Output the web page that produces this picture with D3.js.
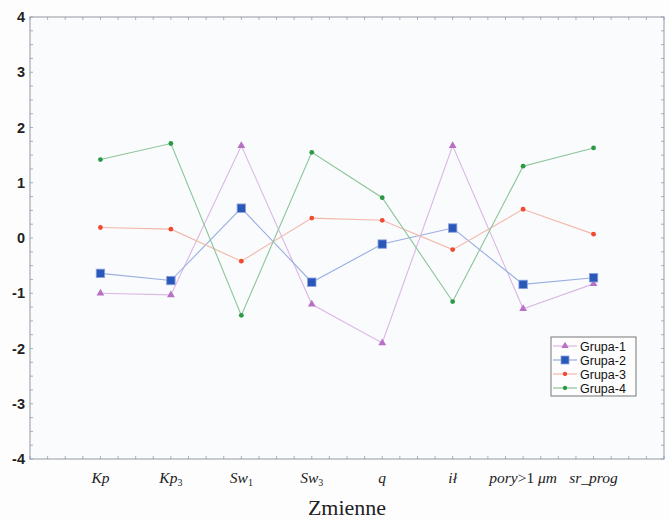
<!DOCTYPE html>
<html><head><meta charset="utf-8">
<script src="https://cdn.jsdelivr.net/npm/d3@7"></script>
<style>body{margin:0;background:#fff}svg{display:block}</style>
</head><body>
<script>
const categories = ["Kp","Kp3","Sw1","Sw3","q","ił","pory>1 μm","sr_prog"];
const grupa1 = [-1.00,-1.03,1.67,-1.20,-1.90,1.67,-1.28,-0.83];
const grupa2 = [-0.64,-0.77,0.54,-0.80,-0.11,0.18,-0.84,-0.72];
const grupa3 = [0.19,0.16,-0.42,0.36,0.32,-0.21,0.52,0.07];
const grupa4 = [1.42,1.71,-1.40,1.55,0.73,-1.15,1.30,1.63];
const seriesNames = ["Grupa-1","Grupa-2","Grupa-3","Grupa-4"];
const yTicks = [-4,-3,-2,-1,0,1,2,3,4];

const W=669,H=520;
const m={l:30,r:5,t:17,b:61};
const svg=d3.select("body").append("svg").attr("width",W).attr("height",H);
svg.append("rect").attr("width",W).attr("height",H).attr("fill","#fdfdfe");
const x=d3.scaleLinear().domain([0,categories.length+1]).range([m.l,W-m.r]);
const y=d3.scaleLinear().domain([-4,4]).range([H-m.b,m.t]);
svg.append("rect").attr("x",x(0)).attr("y",y(4)).attr("width",x(9)-x(0)).attr("height",y(-4)-y(4))
  .attr("fill","#f9fbfd").attr("stroke","#a8aab0").attr("stroke-width",1.2);

// ticks
const tk=d3.range(0,9.001,0.25);
const yk=d3.range(-4,4.001,0.25);
const tg=svg.append("g").attr("stroke","#8aa0b8").attr("stroke-width",0.8);
tk.forEach(v=>{
  tg.append("line").attr("x1",x(v)).attr("x2",x(v)).attr("y1",y(-4)).attr("y2",y(-4)-3);
  tg.append("line").attr("x1",x(v)).attr("x2",x(v)).attr("y1",y(4)).attr("y2",y(4)+3);
});
yk.forEach(v=>{
  tg.append("line").attr("x1",x(0)).attr("x2",x(0)+3).attr("y1",y(v)).attr("y2",y(v));
  tg.append("line").attr("x1",x(9)).attr("x2",x(9)-3).attr("y1",y(v)).attr("y2",y(v));
});

// y axis labels
const ya=svg.append("g").attr("transform",`translate(${x(0)},0)`)
  .call(d3.axisLeft(y).tickValues(yTicks).tickSize(0).tickPadding(5).tickFormat(d=>String(d)));
ya.select(".domain").remove();
ya.selectAll("text").attr("font-family","Liberation Sans, Arial").attr("font-weight","bold")
  .attr("font-size",14.5).attr("fill","#222");

// x labels
const xl=svg.append("g").attr("font-family","Liberation Serif, Times New Roman").attr("font-size",15.5).attr("fill","#222");
const parts={
 "Kp":[["Kp","i"]],
 "Kp3":[["Kp","i"],["3","s"]],
 "Sw1":[["Sw","i"],["1","s"]],
 "Sw3":[["Sw","i"],["3","s"]],
 "q":[["q","i"]],
 "ił":[["ił","i"]],
 "pory>1 μm":[["pory","i"],[">1 ","n"],["μm","i"]],
 "sr_prog":[["sr_prog","i"]]
};
categories.forEach((c,i)=>{
  const t=xl.append("text").attr("x",x(i+1)).attr("y",483).attr("text-anchor","middle");
  parts[c].forEach(([s,k])=>{
    const ts=t.append("tspan").text(s);
    if(k==="i") ts.attr("font-style","italic");
    if(k==="s") ts.attr("font-size",10).attr("dy",3);
  });
});
svg.append("text").attr("x",(x(0)+x(9))/2).attr("y",515).attr("text-anchor","middle")
  .attr("font-family","Liberation Serif, Times New Roman").attr("font-size",22).attr("fill","#222").text("Zmienne");

// series
const data=[grupa1,grupa2,grupa3,grupa4];
const lineCol=["#dcb8e4","#9aaee0","#f2b8aa","#8cc49a"];
const markCol=["#b870c4","#2a58b8","#f04a30","#2a9a44"];
const line=d3.line().x((d,i)=>x(i+1)).y(d=>y(d));
function marker(g,k,cx,cy,s){
  if(k===0) g.append("path").attr("d",d3.symbol(d3.symbolTriangle,26*s)()).attr("transform",`translate(${cx},${cy})`).attr("fill",markCol[k]);
  else if(k===1) g.append("rect").attr("x",cx-4.2*s).attr("y",cy-4.2*s).attr("width",8.4*s).attr("height",8.4*s).attr("fill",markCol[k]).attr("stroke","#8aa0e0").attr("stroke-width",0.8);
  else g.append("circle").attr("cx",cx).attr("cy",cy).attr("r",2.4*s).attr("fill",markCol[k]);
}
data.forEach((vals,k)=>{
  const g=svg.append("g");
  g.append("path").datum(vals).attr("d",line).attr("fill","none").attr("stroke",lineCol[k]).attr("stroke-width",1.1);
  vals.forEach((v,i)=>marker(g,k,x(i+1),y(v),1));
});

// legend
const lg=svg.append("g");
lg.append("rect").attr("x",551).attr("y",337).attr("width",85).attr("height",59).attr("fill","#fdfdfe").attr("stroke","#777").attr("stroke-width",1);
seriesNames.forEach((n,k)=>{
  const yy=346+k*14;
  lg.append("line").attr("x1",553).attr("x2",577).attr("y1",yy).attr("y2",yy).attr("stroke",lineCol[k]).attr("stroke-width",1.2);
  marker(lg,k,565,yy,k===1?0.95:0.9);
  lg.append("text").attr("x",580).attr("y",yy+4.5).attr("font-family","Liberation Sans, Arial").attr("font-size",12.5).attr("fill","#111").text(n);
});
</script>
</body></html>
